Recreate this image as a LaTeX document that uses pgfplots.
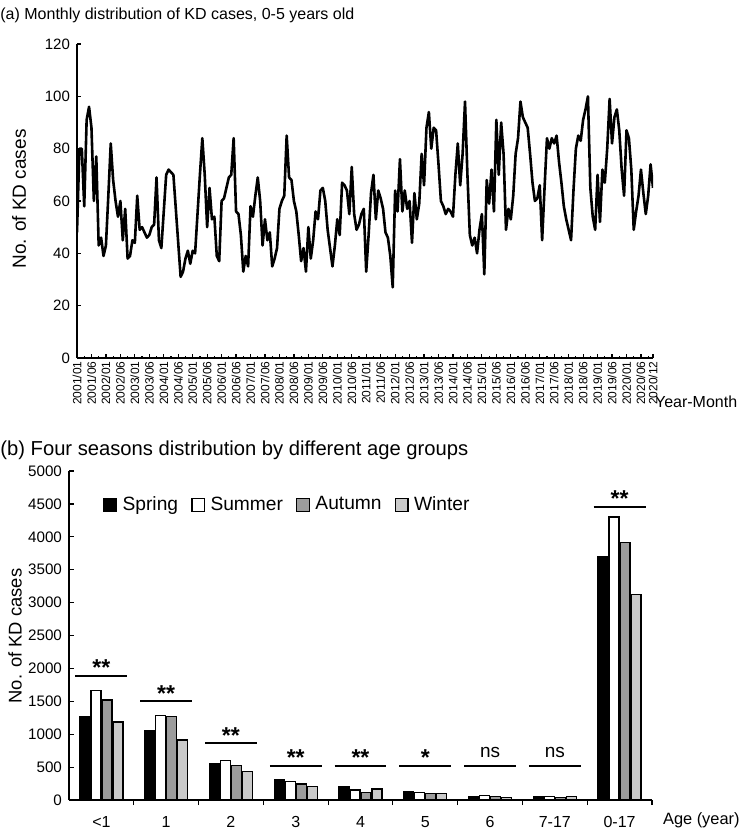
\documentclass[border=0pt]{standalone}
\usepackage{fontspec}
\setmainfont{Liberation Sans}
\usepackage{pgfplots}
\pgfplotsset{compat=1.18}
\usepackage{pgfplotstable}

\definecolor{autumn}{HTML}{9C9C9C}
\definecolor{winter}{HTML}{CACACA}

% monthly KD cases, 2001/01 - 2020/12 (240 months)
\pgfplotstableread[row sep=\\]{
v\\
48\\80\\80\\58\\91\\96\\88\\60\\77\\43\\
46\\39\\43\\62\\82\\68\\60\\54\\60\\45\\
57\\38\\39\\45\\44\\62\\49\\50\\48\\46\\
47\\50\\51\\69\\45\\42\\56\\70\\72\\71\\
70\\57\\44\\31\\33\\38\\41\\36\\41\\40\\
55\\70\\84\\70\\50\\65\\53\\54\\39\\37\\
60\\61\\65\\69\\70\\84\\
56\\55\\47\\33\\39\\35\\58\\54\\62\\69\\
60\\43\\53\\45\\48\\35\\38\\42\\57\\60\\
62\\85\\69\\68\\60\\56\\47\\37\\42\\33\\
50\\38\\45\\56\\53\\64\\65\\60\\49\\42\\
35\\43\\53\\47\\67\\66\\64\\55\\73\\55\\
49\\51\\55\\57\\33\\47\\63\\70\\53\\64\\
61\\57\\
48\\46\\39\\27\\64\\56\\76\\56\\64\\57\\
60\\44\\63\\53\\59\\78\\66\\88\\94\\80\\
88\\87\\74\\60\\58\\55\\57\\56\\54\\70\\
82\\66\\78\\98\\70\\47\\43\\46\\40\\49\\
55\\32\\68\\59\\72\\56\\91\\70\\90\\78\\
49\\57\\53\\62\\78\\84\\98\\92\\90\\88\\
78\\67\\60\\61\\66\\45\\65\\84\\80\\84\\
82\\85\\75\\67\\58\\53\\49\\45\\64\\80\\
85\\83\\91\\95\\100\\65\\54\\49\\70\\52\\
72\\67\\80\\99\\82\\92\\95\\87\\72\\62\\
87\\84\\72\\49\\56\\62\\72\\63\\55\\62\\
74\\65\\
}\monthly

% seasons by age group
\pgfplotstableread{
x sp su au wi
0 1270 1665 1520 1185
1 1060 1285 1265 910
2 545 600 520 435
3 310 285 245 205
4 205 155 115 170
5 130 115 95 95
6 55 65 50 40
7 55 50 40 50
8 3700 4300 3910 3120
}\seasons

\begin{document}
\begin{tikzpicture}
\useasboundingbox (0,0) rectangle (372pt,414.5pt);

\node[anchor=west, inner sep=0pt, font=\fontsize{8}{10}\selectfont] at (0pt,407pt)
  {(a) Monthly distribution of KD cases, 0-5 years old};
\node[anchor=west, inner sep=0pt, font=\fontsize{10.1}{11}\selectfont] at (0pt,189.5pt)
  {(b) Four seasons distribution by different age groups};
\node[rotate=90, font=\fontsize{9.5}{10}\selectfont] at (9.5pt,315pt) {No. of KD cases};
\node[rotate=90, font=\fontsize{9.2}{10}\selectfont] at (7.5pt,96.5pt) {No. of KD cases};

\begin{axis}[
  at={(38.5pt,235.5pt)}, anchor=south west,
  width=288pt, height=157pt, scale only axis,
  xmin=0, xmax=239, ymin=0, ymax=120,
  axis x line*=bottom, axis y line*=left,
  axis line style={line width=0.8pt},
  ytick={0,20,...,120},
  xtick={0,6,...,234,239},
  xticklabels={2001/01,2001/06,2002/01,2002/06,2003/01,2003/06,2004/01,2004/06,
    2005/01,2005/06,2006/01,2006/06,2007/01,2007/06,2008/01,2008/06,
    2009/01,2009/06,2010/01,2010/06,2011/01,2011/06,2012/01,2012/06,
    2013/01,2013/06,2014/01,2014/06,2015/01,2015/06,2016/01,2016/06,
    2017/01,2017/06,2018/01,2018/06,2019/01,2019/06,2020/01,2020/06,2020/12},
  minor xtick={3,9,...,237},
  x tick label style={rotate=90, anchor=east, inner sep=1.5pt,
    font=\fontsize{6}{6}\selectfont},
  y tick label style={font=\fontsize{7.5}{8}\selectfont},
  tick style={black, line width=0.6pt},
  major tick length=2pt, minor tick length=1pt,
  /pgf/number format/assume math mode=true,
  xlabel={Year-Month},
  xlabel style={at={(1,0)}, anchor=west, xshift=-2.5pt, yshift=-22pt,
    font=\fontsize{8}{10}\selectfont},
]
\addplot[black, line width=1.3pt, line join=round] table[x expr=\coordindex, y=v]{\monthly};
\end{axis}

\begin{axis}[
  at={(34.5pt,14.5pt)}, anchor=south west,
  width=291.5pt, height=164.5pt, scale only axis,
  ybar=0.5pt, bar width=5pt,
  xmin=-0.5, xmax=8.5, ymin=0, ymax=5000,
  axis x line*=bottom, axis y line*=left,
  axis line style={line width=0.8pt},
  xtick={0,...,8},
  xticklabels={<1,1,2,3,4,5,6,7-17,0-17},
  major x tick style={draw=none},
  minor xtick={0.5,1.5,...,8.5},
  minor tick length=2.5pt,
  ytick={0,500,...,5000},
  major tick length=2.5pt,
  x tick label style={font=\fontsize{8}{9}\selectfont, yshift=-2pt},
  y tick label style={font=\fontsize{7.6}{9}\selectfont},
  tick style={black, line width=0.6pt},
  /pgf/number format/1000 sep={},
  /pgf/number format/assume math mode=true,
  xlabel={Age (year)},
  xlabel style={at={(1,0)}, anchor=west, xshift=2pt, yshift=-10pt,
    font=\fontsize{8.2}{10}\selectfont},
  legend columns=4,
  legend image code/.code={\draw[#1, line width=0.7pt] (0pt,-3.2pt) rectangle (6.4pt,3.2pt);},
  legend style={at={(0.058,0.897)}, anchor=west, draw=none, fill=none,
    font=\fontsize{9.6}{11}\selectfont, inner sep=0pt,
    nodes={inner sep=1pt},
    /tikz/every odd column/.append style={column sep=1.6pt},
    /tikz/every even column/.append style={column sep=5.5pt}},
]
\addplot[fill=black, draw=black, line width=0.7pt] table[x=x, y=sp]{\seasons};
\addplot[fill=white, draw=black, line width=0.7pt] table[x=x, y=su]{\seasons};
\addplot[fill=autumn, draw=black, line width=0.7pt] table[x=x, y=au]{\seasons};
\addplot[fill=winter, draw=black, line width=0.7pt] table[x=x, y=wi]{\seasons};
\legend{Spring,Summer,Autumn,Winter}

\draw[line width=1pt] (axis cs:-0.4,1890) -- (axis cs:0.4,1890)
  node[midway, anchor=base, yshift=0pt, font=\fontsize{11.5}{12}\bfseries] {**};
\draw[line width=1pt] (axis cs:0.6,1500) -- (axis cs:1.4,1500)
  node[midway, anchor=base, yshift=0pt, font=\fontsize{11.5}{12}\bfseries] {**};
\draw[line width=1pt] (axis cs:1.6,860) -- (axis cs:2.4,860)
  node[midway, anchor=base, yshift=0pt, font=\fontsize{11.5}{12}\bfseries] {**};
\draw[line width=1pt] (axis cs:2.6,520) -- (axis cs:3.4,520)
  node[midway, anchor=base, yshift=0pt, font=\fontsize{11.5}{12}\bfseries] {**};
\draw[line width=1pt] (axis cs:3.6,520) -- (axis cs:4.4,520)
  node[midway, anchor=base, yshift=0pt, font=\fontsize{11.5}{12}\bfseries] {**};
\draw[line width=1pt] (axis cs:4.6,520) -- (axis cs:5.4,520)
  node[midway, anchor=base, yshift=0pt, font=\fontsize{11.5}{12}\bfseries] {*};
\draw[line width=1pt] (axis cs:5.6,520) -- (axis cs:6.4,520)
  node[midway, anchor=base, yshift=4pt, font=\fontsize{9.5}{11}\selectfont] {ns};
\draw[line width=1pt] (axis cs:6.6,520) -- (axis cs:7.4,520)
  node[midway, anchor=base, yshift=4pt, font=\fontsize{9.5}{11}\selectfont] {ns};
\draw[line width=1pt] (axis cs:7.6,4460) -- (axis cs:8.4,4460)
  node[midway, anchor=base, yshift=0pt, font=\fontsize{11.5}{12}\bfseries] {**};
\end{axis}
\end{tikzpicture}
\end{document}
